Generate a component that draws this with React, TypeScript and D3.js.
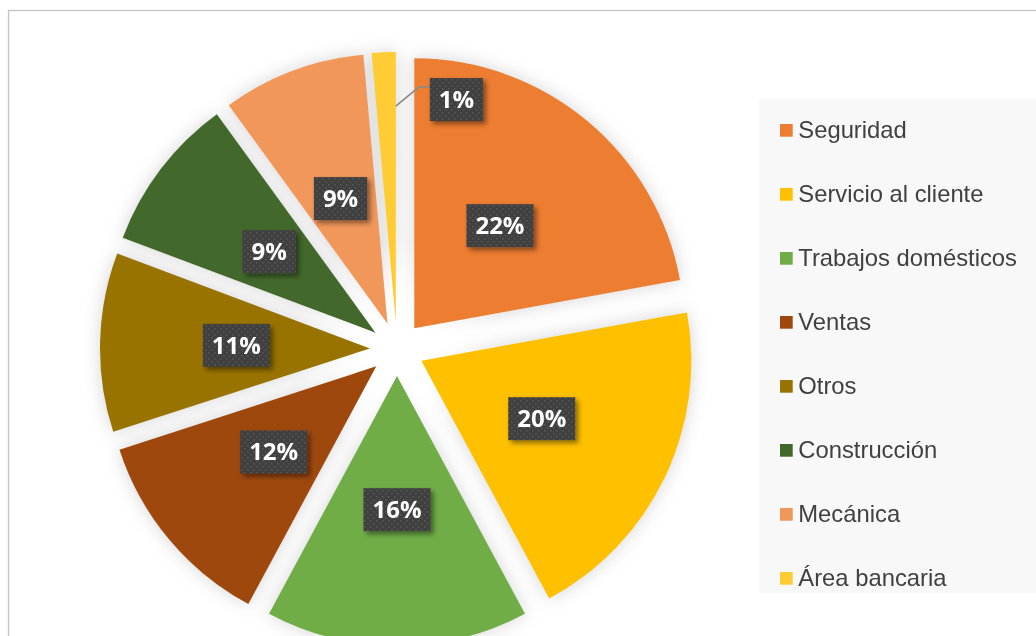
import React from "react";
import * as d3 from "d3";

const categories = [
  "Seguridad",
  "Servicio al cliente",
  "Trabajos domésticos",
  "Ventas",
  "Otros",
  "Construcción",
  "Mecánica",
  "Área bancaria",
];
const counts = [31, 28, 22, 17, 15, 13, 12, 2];
const colors = ["#ED7D31", "#FFC000", "#70AD47", "#9E480E", "#997300", "#43682B", "#F1975A", "#FFCD33"];

const W = 1036;
const H = 636;
const CX = 397;
const CY = 349;
const R = 270;
const EX = 27;
const LABEL_FONT = "bold 24px 'Open Sans'";

function measure(s: string, font: string): number {
  const c = document.createElement("canvas").getContext("2d");
  if (!c) return s.length * 14;
  c.font = font;
  return c.measureText(s).width;
}

export default function App() {
  const total = d3.sum(counts);
  const pie = d3.pie<number>().sort(null).value((d) => d);
  const arcs = pie(counts);
  const arcGen = d3.arc<d3.PieArcDatum<number>>().innerRadius(0).outerRadius(R);

  const slices = arcs.map((a, i) => {
    const mid = (a.startAngle + a.endAngle) / 2;
    const ux = Math.sin(mid);
    const uy = -Math.cos(mid);
    const pct = Math.round((a.value / total) * 100);
    return { a, i, mid, ux, uy, dx: ux * EX, dy: uy * EX, pct, label: pct + "%" };
  });

  return (
    <svg
      width={W}
      height={H}
      style={{ position: "absolute", left: 0, top: 0, display: "block", background: "#fff" }}
    >
      <defs>
        <filter id="pieShadow" x="-20%" y="-20%" width="140%" height="140%">
          <feGaussianBlur stdDeviation="9" />
        </filter>
        <radialGradient id="glow" cx="0.5" cy="0.5" r="0.5">
          <stop offset="0" stopColor="#ffffff" stopOpacity="1" />
          <stop offset="0.4" stopColor="#ffffff" stopOpacity="0.9" />
          <stop offset="1" stopColor="#ffffff" stopOpacity="0" />
        </radialGradient>
        <pattern id="dots" width="6" height="6" patternUnits="userSpaceOnUse">
          <rect width="6" height="6" fill="#404040" />
          <rect x="1" y="1" width="1.6" height="1.6" fill="#565656" />
          <rect x="4" y="4" width="1.6" height="1.6" fill="#565656" />
        </pattern>
        <filter id="boxShadow" x="-30%" y="-30%" width="160%" height="160%">
          <feDropShadow dx="3" dy="3" stdDeviation="2.5" floodColor="#000" floodOpacity="0.45" />
        </filter>
      </defs>

      <rect x={8.5} y={10.5} width={W + 20} height={H + 20} fill="#fff" stroke="#c3c3c3" strokeWidth={1.3} />

      {/* soft shadow behind slices */}
      <g filter="url(#pieShadow)" opacity={0.32}>
        {slices.map((s) => (
          <path
            key={"sh" + s.i}
            d={arcGen(s.a) || ""}
            transform={`translate(${CX + s.dx},${CY + s.dy})`}
            fill="#7a7a7a"
          />
        ))}
      </g>
      <circle cx={CX} cy={CY} r={110} fill="url(#glow)" />

      {/* slices */}
      {slices.map((s) => (
        <path
          key={"sl" + s.i}
          d={arcGen(s.a) || ""}
          transform={`translate(${CX + s.dx},${CY + s.dy})`}
          fill={colors[s.i]}
        />
      ))}

      {/* labels */}
      {slices.map((s) => {
        const tw = measure(s.label, LABEL_FONT);
        const bw = tw + 18;
        const bh = 43;
        if (s.pct < 3) {
          const sx = CX + s.dx + Math.sin(s.a.endAngle) * 0.8 * R;
          const sy = CY + s.dy - Math.cos(s.a.endAngle) * 0.8 * R;
          const ex = sx + 23;
          const ey = sy - 19;
          const fx = ex + 11;
          const bx = fx;
          const by = ey - 9;
          return (
            <g key={"lb" + s.i}>
              <polyline
                points={`${sx},${sy} ${ex},${ey} ${fx},${ey}`}
                fill="none"
                stroke="#8a8a8a"
                strokeWidth={1.6}
              />
              <rect x={bx} y={by} width={bw} height={bh} fill="url(#dots)" filter="url(#boxShadow)" />
              <text
                x={bx + bw / 2}
                y={by + bh / 2 + 8.5}
                textAnchor="middle"
                fill="#fff"
                style={{ font: LABEL_FONT }}
              >
                {s.label}
              </text>
            </g>
          );
        }
        const dist = EX + 0.495 * R;
        const lx = CX + s.ux * dist;
        const ly = CY + s.uy * dist;
        return (
          <g key={"lb" + s.i}>
            <rect
              x={lx - bw / 2}
              y={ly - bh / 2}
              width={bw}
              height={bh}
              fill="url(#dots)"
              filter="url(#boxShadow)"
            />
            <text x={lx} y={ly + 8.5} textAnchor="middle" fill="#fff" style={{ font: LABEL_FONT }}>
              {s.label}
            </text>
          </g>
        );
      })}

      {/* legend */}
      <rect x={759} y={99} width={W} height={494} fill="#f8f8f8" />
      {categories.map((c, i) => (
        <g key={"lg" + i} transform={`translate(780,${124 + i * 64})`}>
          <rect x={0} y={0} width={12.7} height={12.7} fill={colors[i]} />
          <text
            x={18.3}
            y={14.3}
            fill="#404040"
            style={{ font: "23.8px 'Liberation Sans', Arial, sans-serif" }}
          >
            {c}
          </text>
        </g>
      ))}
    </svg>
  );
}
